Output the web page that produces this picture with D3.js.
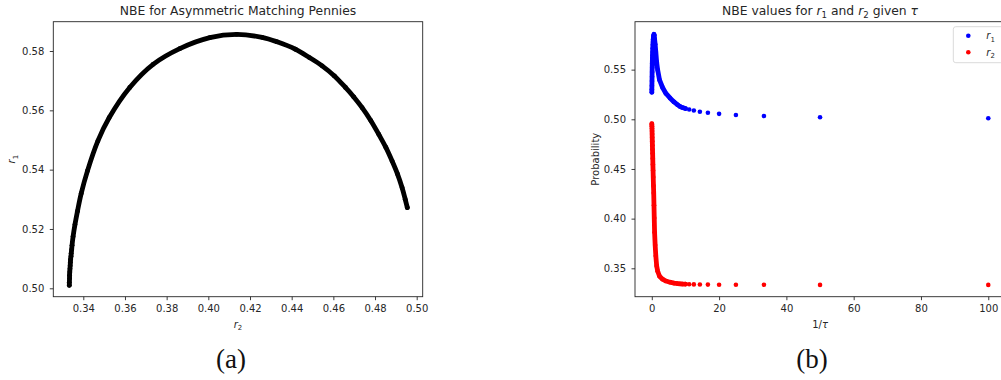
<!DOCTYPE html>
<html>
<head>
<meta charset="utf-8">
<script src="https://cdn.jsdelivr.net/npm/d3@7"></script>
<style>
  body { margin: 0; background: #fff; }
  svg { display: block; }
  text { font-family: "DejaVu Sans", sans-serif; fill: #262626; }
</style>
</head>
<body>
<svg id="fig" width="1001" height="380"></svg>
<script>
// Logit NBE path for the asymmetric matching pennies game, one entry per 1/tau
const invTau = [0.01, 0.02, 0.04, 0.06, 0.08, 0.10, 0.12, 0.15, 0.18, 0.21,
  0.25, 0.29, 0.33, 0.38, 0.43, 0.50, 0.57, 0.65, 0.73, 0.83,
  1.0, 1.2, 1.45, 1.75, 2.3, 3.2, 4.2, 5.4, 6.6, 7.7,
  8.33, 9.09, 10, 11.11, 12.5, 14.29, 16.67, 20, 25, 33.33, 50, 100];

const r1 = [0.5272, 0.5300, 0.5339, 0.5385, 0.5429, 0.5475, 0.5519, 0.5565, 0.5609, 0.5645,
  0.5677, 0.5716, 0.5750, 0.5778, 0.5806, 0.5831, 0.5846, 0.5856, 0.5845, 0.5808,
  0.5755, 0.5677, 0.5575, 0.5497, 0.5396, 0.5320, 0.5260, 0.5215, 0.5175, 0.5145,
  0.5130, 0.5118, 0.5108, 0.5098, 0.5088, 0.5076, 0.5066, 0.5055, 0.5044, 0.5033, 0.5020, 0.5010];

const r2 = [0.4955, 0.4945, 0.4930, 0.4908, 0.4882, 0.4852, 0.4818, 0.4780, 0.4738, 0.4698,
  0.4658, 0.4605, 0.4546, 0.4485, 0.4418, 0.4330, 0.4258, 0.4136, 0.4007, 0.3863,
  0.3735, 0.3623, 0.3524, 0.3470, 0.3420, 0.3390, 0.3372, 0.3360, 0.3351, 0.3346,
  0.3344, 0.3342, 0.3341, 0.3339, 0.3338, 0.3337, 0.3336, 0.3335, 0.3334, 0.3334, 0.3333, 0.3333];

// Tick values
const ticksAx = [0.34, 0.36, 0.38, 0.40, 0.42, 0.44, 0.46, 0.48, 0.50];
const ticksAy = [0.50, 0.52, 0.54, 0.56, 0.58];
const ticksBx = [0, 20, 40, 60, 80, 100];
const ticksBy = [0.35, 0.40, 0.45, 0.50, 0.55];

// Below this 1/tau the markers overlap into a solid band
const denseLimit = 10;

const TICK_FS = 10, TITLE_FS = 12.35;

const svg = d3.select("#fig");
svg.append("rect").attr("width", 1001).attr("height", 380).attr("fill", "#fff");

const idx = d3.range(invTau.length);
const dense = idx.filter(i => invTau[i] <= denseLimit);

// Writes a label built from plain, italic and subscript pieces
function mathText(sel, parts, size) {
  let shift = 0;
  parts.forEach(p => {
    const t = sel.append("tspan").text(p.t);
    if (p.i) t.style("font-style", "italic");
    const target = p.sub ? size * 0.28 : 0;
    if (target !== shift) { t.attr("dy", target - shift); shift = target; }
    if (p.sub) t.attr("font-size", size * 0.7);
  });
  return sel;
}

function styleAxis(g) {
  g.select(".domain").remove();
  g.selectAll(".tick line").attr("stroke", "#262626").attr("stroke-width", 0.9);
  g.selectAll(".tick text").attr("font-size", TICK_FS).attr("fill", "#262626")
    .style("font-family", "\"DejaVu Sans\", sans-serif");
}

// ---------- panel (a): r1 against r2 ----------
const A = { left: 53.3, right: 422.7, top: 21.7, bottom: 296.7 };
const xA = d3.scaleLinear().domain([0.3256, 0.50288]).range([A.left, A.right]);
const yA = d3.scaleLinear().domain([0.49717, 0.58988]).range([A.bottom, A.top]);

const gA = svg.append("g");
gA.append("defs").append("clipPath").attr("id", "clipA")
  .append("rect").attr("x", A.left).attr("y", A.top)
  .attr("width", A.right - A.left).attr("height", A.bottom - A.top);

const plotA = gA.append("g").attr("clip-path", "url(#clipA)");
plotA.append("path")
  .attr("d", d3.line().x(i => xA(r2[i])).y(i => yA(r1[i]))
    .curve(d3.curveCatmullRom.alpha(0.5))(idx))
  .attr("fill", "none").attr("stroke", "#000").attr("stroke-width", 4.8)
  .attr("stroke-linecap", "round").attr("stroke-linejoin", "round");
plotA.selectAll("circle").data(idx).join("circle")
  .attr("cx", i => xA(r2[i])).attr("cy", i => yA(r1[i])).attr("r", 2.4).attr("fill", "#000");

gA.append("g").attr("transform", `translate(0,${A.bottom})`)
  .call(d3.axisBottom(xA).tickValues(ticksAx).tickFormat(d3.format(".2f"))
    .tickSize(3.5).tickPadding(4.5).tickSizeOuter(0))
  .call(styleAxis);
gA.append("g").attr("transform", `translate(${A.left},0)`)
  .call(d3.axisLeft(yA).tickValues(ticksAy).tickFormat(d3.format(".2f"))
    .tickSize(3.5).tickPadding(5.5).tickSizeOuter(0))
  .call(styleAxis);

gA.append("rect").attr("x", A.left).attr("y", A.top)
  .attr("width", A.right - A.left).attr("height", A.bottom - A.top)
  .attr("fill", "none").attr("stroke", "#262626").attr("stroke-width", 0.9);

gA.append("text").attr("x", (A.left + A.right) / 2).attr("y", 15)
  .attr("text-anchor", "middle").attr("font-size", TITLE_FS)
  .text("NBE for Asymmetric Matching Pennies");

mathText(gA.append("text").attr("x", (A.left + A.right) / 2).attr("y", 327.5)
  .attr("text-anchor", "middle").attr("font-size", TICK_FS),
  [{ t: "r", i: true }, { t: "2", sub: true }], TICK_FS);

mathText(gA.append("text")
  .attr("transform", `translate(15,${(A.top + A.bottom) / 2}) rotate(-90)`)
  .attr("text-anchor", "middle").attr("font-size", TICK_FS),
  [{ t: "r", i: true }, { t: "1", sub: true }], TICK_FS);

// ---------- panel (b): r1 and r2 against 1/tau ----------
const B = { left: 635, right: 1005.1, top: 21.7, bottom: 296.7 };
const xB = d3.scaleLinear().domain([-4.99, 105.0]).range([B.left, B.right]);
const yB = d3.scaleLinear().domain([0.32141, 0.59826]).range([B.bottom, B.top]);

const gB = svg.append("g");
gB.append("defs").append("clipPath").attr("id", "clipB")
  .append("rect").attr("x", B.left).attr("y", B.top)
  .attr("width", B.right - B.left).attr("height", B.bottom - B.top);

const plotB = gB.append("g").attr("clip-path", "url(#clipB)");
const series = [
  { name: "r1", vals: r1, color: "#0000ff" },
  { name: "r2", vals: r2, color: "#ff0000" }
];
series.forEach(s => {
  plotB.append("path")
    .attr("d", d3.line().x(i => xB(invTau[i])).y(i => yB(s.vals[i]))(dense))
    .attr("fill", "none").attr("stroke", s.color).attr("stroke-width", 4.8)
    .attr("stroke-linecap", "round").attr("stroke-linejoin", "round");
  plotB.append("g").selectAll("circle").data(idx).join("circle")
    .attr("cx", i => xB(invTau[i])).attr("cy", i => yB(s.vals[i]))
    .attr("r", 2.3).attr("fill", s.color);
});

gB.append("g").attr("transform", `translate(0,${B.bottom})`)
  .call(d3.axisBottom(xB).tickValues(ticksBx).tickFormat(d3.format("d"))
    .tickSize(3.5).tickPadding(4.5).tickSizeOuter(0))
  .call(styleAxis);
gB.append("g").attr("transform", `translate(${B.left},0)`)
  .call(d3.axisLeft(yB).tickValues(ticksBy).tickFormat(d3.format(".2f"))
    .tickSize(3.5).tickPadding(5.5).tickSizeOuter(0))
  .call(styleAxis);

gB.append("rect").attr("x", B.left).attr("y", B.top)
  .attr("width", B.right - B.left).attr("height", B.bottom - B.top)
  .attr("fill", "none").attr("stroke", "#262626").attr("stroke-width", 0.9);

mathText(gB.append("text").attr("x", (B.left + B.right) / 2).attr("y", 15)
  .attr("text-anchor", "middle").attr("font-size", TITLE_FS),
  [{ t: "NBE values for " }, { t: "r", i: true }, { t: "1", sub: true },
   { t: " and " }, { t: "r", i: true }, { t: "2", sub: true },
   { t: " given " }, { t: "\u03c4", i: true }], TITLE_FS);

mathText(gB.append("text").attr("x", (B.left + B.right) / 2).attr("y", 327.5)
  .attr("text-anchor", "middle").attr("font-size", TICK_FS),
  [{ t: "1/" }, { t: "\u03c4", i: true }], TICK_FS);

gB.append("text")
  .attr("transform", `translate(598.5,${(B.top + B.bottom) / 2}) rotate(-90)`)
  .attr("text-anchor", "middle").attr("font-size", TICK_FS).text("Probability");

// legend
const leg = gB.append("g");
leg.append("rect").attr("x", 953.3).attr("y", 26.7).attr("width", 50).attr("height", 36)
  .attr("rx", 2.5).attr("fill", "#fff").attr("fill-opacity", 0.8)
  .attr("stroke", "#d6d6d6").attr("stroke-width", 0.9);
series.forEach((s, k) => {
  const cy = 35.7 + k * 16.6;
  leg.append("circle").attr("cx", 968.3).attr("cy", cy).attr("r", 2.3).attr("fill", s.color);
  mathText(leg.append("text").attr("x", 986.3).attr("y", cy + 3.3).attr("font-size", TICK_FS),
    [{ t: "r", i: true }, { t: s.name.slice(1), sub: true }], TICK_FS);
});

// subfigure captions
const captions = [{ t: "(a)", x: 231 }, { t: "(b)", x: 812 }];
svg.selectAll("text.cap").data(captions).join("text").attr("class", "cap")
  .attr("x", d => d.x).attr("y", 368).attr("text-anchor", "middle")
  .style("font-family", "\"Liberation Serif\", \"DejaVu Serif\", serif")
  .attr("font-size", 27).style("fill", "#111").text(d => d.t);
</script>
</body>
</html>
